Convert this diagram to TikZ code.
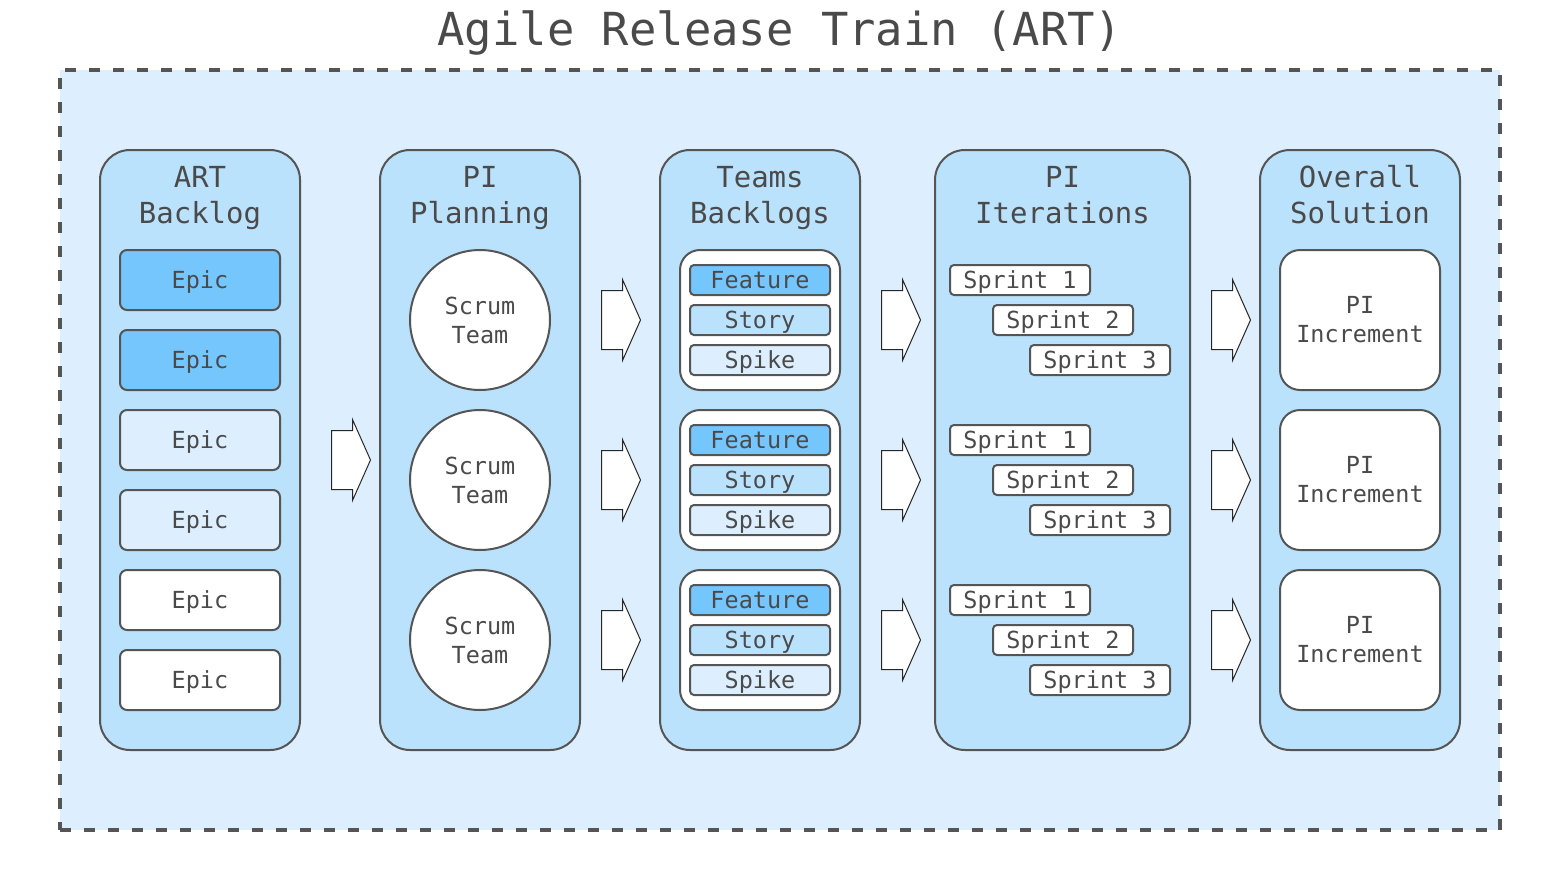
\documentclass[tikz,border=0pt]{standalone}
\usepackage{fontspec}
\newfontfamily\dmono{DejaVu Sans Mono}
\definecolor{outerfill}{HTML}{DDEFFE}
\definecolor{colfill}{HTML}{BBE2FC}
\definecolor{darkfill}{HTML}{75C6FC}
\definecolor{linec}{HTML}{555555}
\definecolor{textc}{HTML}{4A4A4A}
\newcommand\hl[1]{\vphantom{Blg}#1}
\begin{document}
\begin{tikzpicture}[x=1pt,y=-1pt,
  every node/.style={font=\dmono, text=textc},
  column/.style={draw=linec, line width=2pt, fill=colfill, rounded corners=30pt, minimum width=200pt, minimum height=600pt, inner sep=0pt},
  header/.style={align=center, font=\dmono\fontsize{29}{36}\selectfont, inner sep=0pt},
  epic/.style={draw=linec, line width=2pt, rounded corners=7pt, minimum width=160pt, minimum height=60pt, inner sep=0pt, text height=18pt, text depth=0.8pt, font=\dmono\fontsize{23.5}{28}\selectfont},
  scrum/.style={circle, draw=linec, line width=2pt, fill=white, minimum size=140pt, inner sep=0pt, align=center, font=\dmono\fontsize{23.5}{29}\selectfont},
  group/.style={draw=linec, line width=2pt, fill=white, rounded corners=20pt, minimum width=160pt, minimum height=140pt, inner sep=0pt},
  item/.style={draw=linec, line width=2pt, rounded corners=4pt, minimum width=140pt, minimum height=30pt, inner sep=0pt, text height=18pt, text depth=0.8pt, font=\dmono\fontsize{23.5}{28}\selectfont},
  incr/.style={group, align=center, font=\dmono\fontsize{23.5}{29}\selectfont},
  arrowline/.style={draw=black!85, line width=1pt, fill=white, line join=miter},
  blockarrow/.pic={\path[arrowline] (-19,-29.5) -- (2,-29.5) -- (2,-40.5) -- (20,0) -- (2,40.5) -- (2,29.5) -- (-19,29.5) -- cycle;}
]
\useasboundingbox (0,0) rectangle (1561,891);

% title
\node[font=\dmono\fontsize{45.5}{50}\selectfont, inner sep=0pt] (title) at (780,33) {Agile Release Train (ART)};

% outer dashed region
\node[draw=linec, line width=3.5pt, dash pattern=on 11pt off 13pt, fill=outerfill, minimum width=1440pt, minimum height=760pt, inner sep=0pt] (art) at (780,450) {};

% columns
\node[column] (c1) at (200,450) {};
\node[column] (c2) at (480,450) {};
\node[column] (c3) at (760,450) {};
\node[column, minimum width=255pt] (c4) at (1062.5,450) {};
\node[column] (c5) at (1360,450) {};

\node[header] (h1) at (200,197.5) {\hl{ART}\\\hl{Backlog}};
\node[header] (h2) at (480,197.5) {\hl{PI}\\\hl{Planning}};
\node[header] (h3) at (760,197.5) {\hl{Teams}\\\hl{Backlogs}};
\node[header] (h4) at (1062.5,197.5) {\hl{PI}\\\hl{Iterations}};
\node[header] (h5) at (1360,197.5) {\hl{Overall}\\\hl{Solution}};

% epics
\node[epic, fill=darkfill] (e1) at (200,280) {Epic};
\node[epic, fill=darkfill] (e2) at (200,360) {Epic};
\node[epic, fill=outerfill] (e3) at (200,440) {Epic};
\node[epic, fill=outerfill] (e4) at (200,520) {Epic};
\node[epic, fill=white] (e5) at (200,600) {Epic};
\node[epic, fill=white] (e6) at (200,680) {Epic};

% scrum teams
\node[scrum] (s1) at (480,320) {Scrum\\Team};
\node[scrum] (s2) at (480,480) {Scrum\\Team};
\node[scrum] (s3) at (480,640) {Scrum\\Team};

% team backlogs
\foreach \i/\y in {1/320,2/480,3/640}{
  \node[group] (g\i) at (760,\y) {};
  \node[item, fill=darkfill] (f\i) at (760,\y-40) {Feature};
  \node[item, fill=colfill] (st\i) at (760,\y) {Story};
  \node[item, fill=outerfill] (sp\i) at (760,\y+40) {Spike};
}

% sprints
\foreach \i/\y in {1/320,2/480,3/640}{
  \node[item, fill=white] (pa\i) at (1020,\y-40) {Sprint 1};
  \node[item, fill=white] (pb\i) at (1063,\y) {Sprint 2};
  \node[item, fill=white] (pc\i) at (1100,\y+40) {Sprint 3};
}

% increments
\node[incr] (i1) at (1360,320) {PI\\Increment};
\node[incr] (i2) at (1360,480) {PI\\Increment};
\node[incr] (i3) at (1360,640) {PI\\Increment};

% block arrows
\pic (a0) at (350.5,460) {blockarrow};
\foreach \x in {620.5,900.5,1230.5}{
  \foreach \y in {320,480,640}{
    \pic at (\x,\y) {blockarrow};
  }
}
\end{tikzpicture}
\end{document}
